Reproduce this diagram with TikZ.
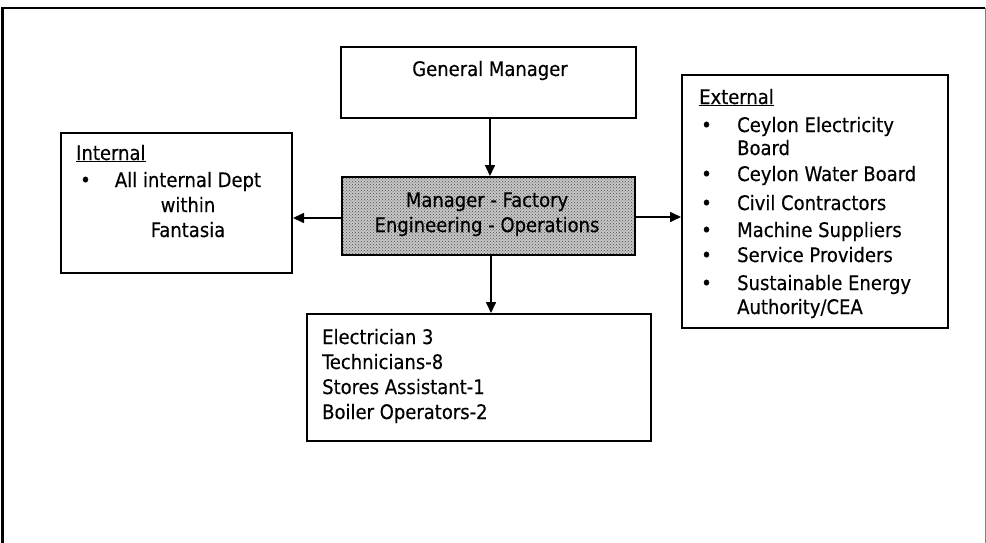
\documentclass[tikz,border=0pt]{standalone}
\usepackage{fontspec}
\setmainfont[FakeBold=0.5,AutoFakeBold=0.5]{DejaVu Sans Condensed}
\newfontfamily\diagfont[FakeBold=0.4]{DejaVu Sans Condensed}
\usetikzlibrary{arrows.meta,patterns}
\begin{document}
\begin{tikzpicture}[x=1pt,y=-1pt,
  box/.style={draw, line width=2pt, rectangle, inner sep=0pt},
  txt/.style={font=\diagfont\fontsize{20}{24}\selectfont, inner sep=0pt, anchor=base west},
  ctxt/.style={font=\diagfont\fontsize{20}{24}\selectfont, inner sep=0pt, anchor=base},
  conn/.style={line width=1.6pt, -{Triangle[length=11pt,width=10pt]}}]
\useasboundingbox (0,0) rectangle (986,543);
% outer frame
\coordinate (fbl) at (2.5,543);
\coordinate (ftl) at (2.5,8);
\coordinate (ftr) at (985,8);
\coordinate (fbr) at (985,543);
\draw[line width=2.5pt] (fbl) -- (ftl) -- (ftr);
\draw[line width=0.8pt, gray] (ftr) -- (fbr);
% boxes
\node[box, minimum width=295pt, minimum height=71pt] (gm) at (488.5,82.5) {};
\node[box, minimum width=293pt, minimum height=78pt, preaction={fill=gray!45}, pattern=crosshatch dots, pattern color=gray!60!black] (mgr) at (488.5,216) {};
\node[box, minimum width=231pt, minimum height=140pt] (int) at (176.5,203) {};
\node[box, minimum width=266pt, minimum height=253pt] (ext) at (815,201.5) {};
\node[box, minimum width=344pt, minimum height=127pt] (bot) at (479,377.5) {};
% texts
\node[ctxt] (gmt) at (490,76) {General Manager};
\node[ctxt] (m1) at (487,207) {Manager - Factory};
\node[ctxt] (m2) at (487,232) {Engineering - Operations};
\node[txt] (i0) at (76,160) {\underline{Internal}};
\node[txt] (ib) at (80,187) {\textbullet};
\node[ctxt] (i1) at (188,187) {All internal Dept};
\node[ctxt] (i2) at (188,212) {within};
\node[ctxt] (i3) at (188,237) {Fantasia};
\node[txt] (e0) at (699,104) {\underline{External}};
\node[txt] (eb1) at (701,132) {\textbullet};
\node[txt] (e1) at (737,132) {Ceylon Electricity};
\node[txt] (e1b) at (737,155) {Board};
\node[txt] (eb2) at (701,181) {\textbullet};
\node[txt] (e2) at (737,181) {Ceylon Water Board};
\node[txt] (eb3) at (701,210) {\textbullet};
\node[txt] (e3) at (737,210) {Civil Contractors};
\node[txt] (eb4) at (701,237) {\textbullet};
\node[txt] (e4) at (737,237) {Machine Suppliers};
\node[txt] (eb5) at (701,262) {\textbullet};
\node[txt] (e5) at (737,262) {Service Providers};
\node[txt] (eb6) at (701,290) {\textbullet};
\node[txt] (e6) at (737,290) {Sustainable Energy};
\node[txt] (e6b) at (737,314) {Authority/CEA};
\node[txt] (b1) at (322,344) {Electrician 3};
\node[txt] (b2) at (322,369) {Technicians-8};
\node[txt] (b3) at (322,394) {Stores Assistant-1};
\node[txt] (b4) at (322,419) {Boiler Operators-2};
% connectors
\draw[conn] (gm.south -| 490,0) -- (mgr.north -| 490,0);
\draw[conn] (mgr.south -| 491,0) -- (bot.north -| 491,0);
\draw[conn] (mgr.west |- 0,218) -- (int.east |- 0,218);
\draw[conn] (mgr.east |- 0,217) -- (ext.west |- 0,217);
\end{tikzpicture}
\end{document}
